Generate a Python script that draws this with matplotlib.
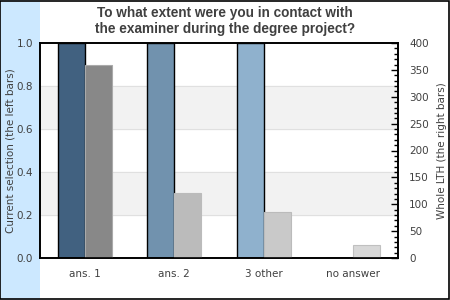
import numpy as np
import matplotlib.pyplot as plt
from matplotlib.patches import Rectangle
from matplotlib.ticker import MultipleLocator

categories = ["ans. 1", "ans. 2", "3 other", "no answer"]
selection = [1.0, 1.0, 1.0, 0.0]          # left axis
whole_lth = [360, 121, 86, 24]            # right axis
left_colors = ["#416180", "#7192ae", "#8fb1cd", "#8fb1cd"]
right_colors = ["#888888", "#bbbbbb", "#c9c9c9", "#d8d8d8"]

fig = plt.figure(figsize=(4.5, 3), dpi=100)

# light blue band on the left and outer frame
fig.patches.append(Rectangle((0, 0), 40 / 450, 1, transform=fig.transFigure,
                             facecolor="#cce8ff", edgecolor="none", zorder=-1))
fig.patches.append(Rectangle((0.001, 0.002), 0.997, 0.995, transform=fig.transFigure,
                             facecolor="none", edgecolor="black", linewidth=1.2, zorder=5))

ax = fig.add_axes([40 / 450, 42 / 300, 358 / 450, 215 / 300])
ax.set_facecolor("white")
x = np.arange(len(categories))
w = 0.3

# alternating bands + grid lines
for lo in (0.2, 0.6):
    ax.axhspan(lo, lo + 0.2, color="#f2f2f2", zorder=0)
for g in (0.2, 0.4, 0.6, 0.8):
    ax.axhline(g, color="#e0e0e0", linewidth=0.8, zorder=0.5)

ax.bar(x - w / 2, selection, width=w, color=left_colors,
       edgecolor="black", linewidth=1.0, zorder=2)
ax.set_xlim(-0.5, 3.5)
ax.set_ylim(0, 1.0)
ax.set_yticks([0.0, 0.2, 0.4, 0.6, 0.8, 1.0])
ax.set_yticklabels(["0.0", "0.2", "0.4", "0.6", "0.8", "1.0"])
ax.set_xticks(x)
ax.set_xticklabels(categories)
ax.tick_params(axis="both", length=0, labelsize=7.5, labelcolor="#404040", pad=5)
ax.tick_params(axis="x", pad=8)
ax.set_ylabel("Current selection (the left bars)", fontsize=7.5, color="#404040", labelpad=1)

ax2 = ax.twinx()
ax2.bar(x + w / 2, whole_lth, width=w, color=right_colors,
        edgecolor=["#aaaaaa", "#bbbbbb", "#bbbbbb", "#c0c0c0"], linewidth=0.8, zorder=2)
ax2.set_ylim(0, 400)
ax2.set_yticks(range(0, 401, 50))
ax2.yaxis.set_minor_locator(MultipleLocator(10))
ax2.tick_params(axis="y", which="major", direction="in", length=5, width=1,
                labelsize=7.5, labelcolor="#404040", pad=8)
ax2.tick_params(axis="y", which="minor", direction="in", length=3, width=1)
ax2.set_ylabel("Whole LTH (the right bars)", fontsize=7.5, color="#404040", labelpad=6)

for a in (ax, ax2):
    for s in a.spines.values():
        s.set_linewidth(1.2)
        s.set_color("black")

fig.text(0.5, 0.93, "To what extent were you in contact with\nthe examiner during the degree project?",
         ha="center", va="center", fontsize=9.8, fontweight="bold", color="#404040",
         family="Liberation Sans", linespacing=1.15)

fig.savefig("out.png", dpi=100)
